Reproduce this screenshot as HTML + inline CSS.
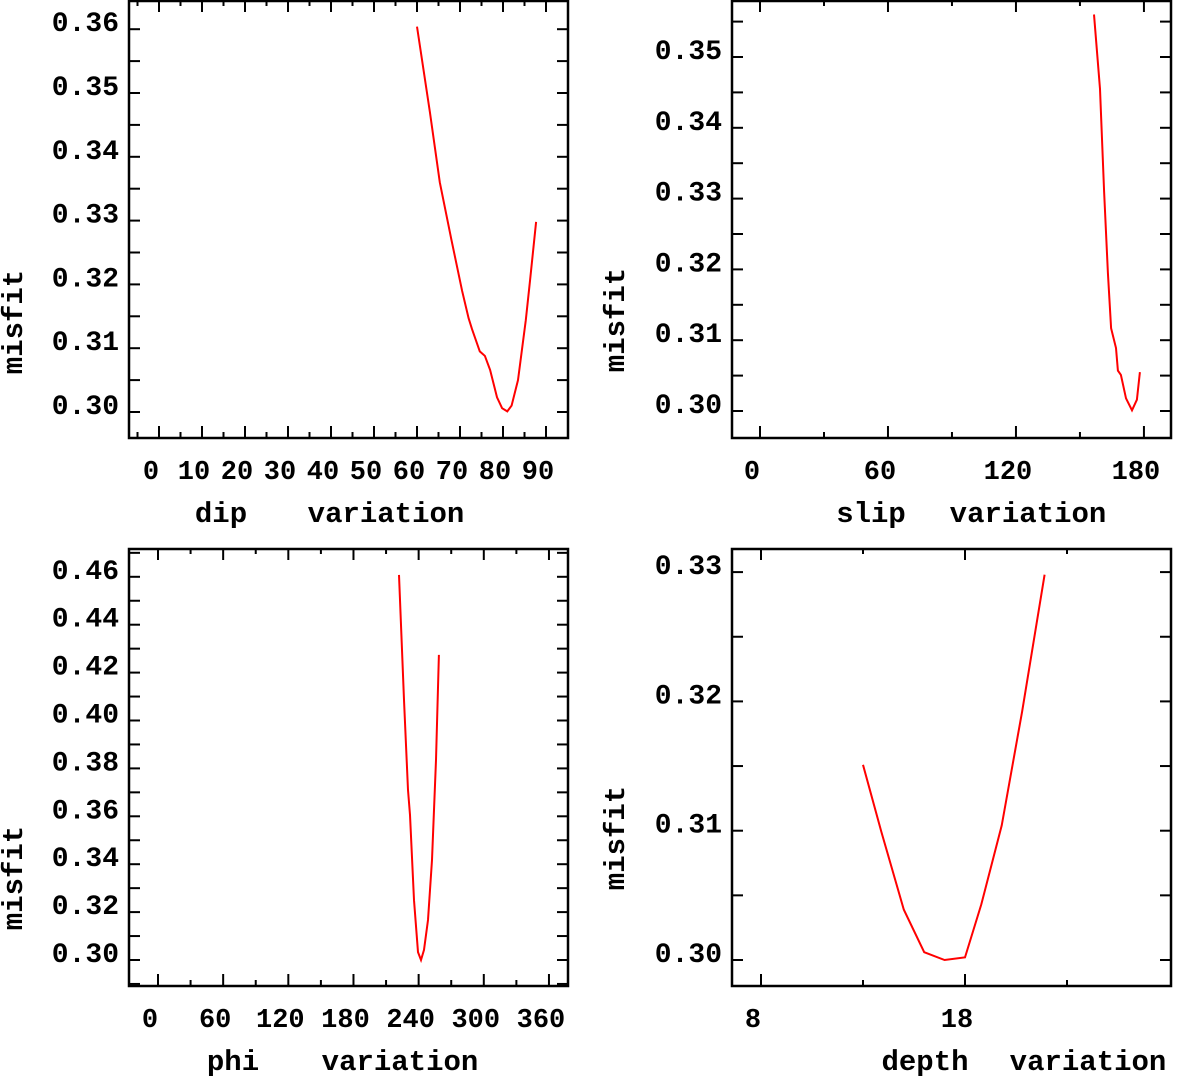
<!DOCTYPE html>
<html><head><meta charset="utf-8"><style>
body{margin:0;background:#fff}
svg text{font-family:"Liberation Mono",monospace;font-weight:bold;fill:#000}
</style></head><body>
<svg id="c" width="1183" height="1076" xmlns="http://www.w3.org/2000/svg"></svg>
<script>
const dipX=[60,63,65.3,68,70.5,72,72.8,74.6,75.8,77,78.6,79.8,81,82,83.5,85.3,86.3,87.7];
const dipY=[0.3604,0.347,0.336,0.327,0.319,0.3147,0.313,0.3095,0.3088,0.3066,0.3023,0.3006,0.3001,0.301,0.305,0.3144,0.3207,0.3298];
const slipX=[156.6,159.4,161.3,163.1,164.6,166.9,167.8,169.2,171.6,174.4,176.7,178.1];
const slipY=[0.356,0.3455,0.331,0.3195,0.3117,0.3089,0.3057,0.3051,0.3018,0.3001,0.3016,0.3055];
const phiX=[221.9,226.5,230.2,232,235.7,239.4,242.2,244.9,248.6,252.3,256,258.7];
const phiY=[0.4608,0.4086,0.371,0.3606,0.325,0.3033,0.300,0.3042,0.3167,0.3418,0.3835,0.4274];
const depX=[13,13.9,15,16,17,18,18.8,19.8,20.8,21.9];
const depY=[0.3151,0.3099,0.3039,0.3006,0.300,0.3002,0.3043,0.3104,0.3192,0.3298];
const dipTicks=[0,10,20,30,40,50,60,70,80,90];
const slipTicks=[0,60,120,180];
const phiTicks=[0,60,120,180,240,300,360];
const depTicks=[8,18];
const dipYT=[0.30,0.31,0.32,0.33,0.34,0.35,0.36];
const slipYT=[0.30,0.31,0.32,0.33,0.34,0.35];
const phiYT=[0.30,0.32,0.34,0.36,0.38,0.40,0.42,0.44,0.46];
const depYT=[0.30,0.31,0.32,0.33];

const svg=document.getElementById('c');
const NS='http://www.w3.org/2000/svg';
function mk(t,a,p){const e=document.createElementNS(NS,t);for(const k in a)e.setAttribute(k,a[k]);(p||svg).appendChild(e);return e;}
const panels=[
 {n:'dip',L:129,R:568,T:0,B:438,x0:159,xs:4.3,xb:0,y0:412,ys:6380,xt:dipTicks,xm:5,yt:dipYT,ym:0.005,X:dipX,Y:dipY,w1:'dip',x1:221,w2:'variation',x2:386,ly:322,lx:14},
 {n:'slip',L:732,R:1171,T:0,B:438,x0:760,xs:2.133,xb:0,y0:411,ys:7080,xt:slipTicks,xm:30,yt:slipYT,ym:0.005,X:slipX,Y:slipY,w1:'slip',x1:871,w2:'variation',x2:1028,ly:320,lx:616},
 {n:'phi',L:129,R:568,T:548,B:986,x0:158,xs:1.086,xb:0,y0:960,ys:2395,xt:phiTicks,xm:30,yt:phiYT,ym:0.01,X:phiX,Y:phiY,w1:'phi',x1:233,w2:'variation',x2:400,ly:878,lx:14},
 {n:'depth',L:732,R:1171,T:548,B:986,x0:597.8,xs:20.4,xb:3,y0:960,ys:12930,xt:depTicks,xm:5,yt:depYT,ym:0.005,X:depX,Y:depY,w1:'depth',x1:925,w2:'variation',x2:1088,ly:838,lx:616}
];
panels.forEach(p=>{
 const g=mk('g',{});
 
 
 const sx=v=>p.x0+p.xs*v, sy=v=>p.y0-(v-0.30)*p.ys;
 const box=mk('rect',{x:p.L,y:p.T+1,width:p.R-p.L,height:p.B-p.T-1,fill:'none',stroke:'#000','stroke-width':2.5},g);
 
 
 const vmin=(p.L-p.x0)/p.xs;
 const xmin=Math.ceil((vmin-p.xb)/p.xm)*p.xm+p.xb;
 for(let v=xmin;sx(v)<p.R-2;v+=p.xm){
  const major=p.xt.includes(Math.round(v));
  const len=major?12:6, x=sx(v);
  mk('line',{x1:x,x2:x,y1:p.B,y2:p.B-len,stroke:'#000','stroke-width':2},g);
  mk('line',{x1:x,x2:x,y1:p.T,y2:p.T+len,stroke:'#000','stroke-width':2},g);
 }
 p.xt.forEach(v=>{const t=mk('text',{x:sx(v)-8,y:p.B+41,'font-size':27,'text-anchor':'middle'},g);t.textContent=v;
  
  });
 const ystart=0.30-Math.floor((p.B-p.y0)/p.ys/p.ym)*p.ym;
 for(let v=ystart;sy(v)>p.T+2;v+=p.ym){
  const y=sy(v);
  mk('line',{x1:p.L,x2:p.L+11,y1:y,y2:y,stroke:'#000','stroke-width':2},g);
  mk('line',{x1:p.R,x2:p.R-11,y1:y,y2:y,stroke:'#000','stroke-width':2},g);
 }
 p.yt.forEach(v=>{const t=mk('text',{x:p.L-10,y:sy(v)+2,'font-size':28,'text-anchor':'end'},g);t.textContent=v.toFixed(2);
  
  });
 const a=mk('text',{x:p.x1,y:p.B+84,'font-size':29,'text-anchor':'middle'},g);
 a.textContent=p.w1;
 
 
 const b=mk('text',{x:p.x2,y:p.B+84,'font-size':29,'text-anchor':'middle'},g);
 b.textContent=p.w2;
 
 
 const yt=mk('text',{x:0,y:0,'font-size':29,'text-anchor':'middle',transform:`translate(${p.lx+8},${p.ly}) rotate(-90)`},g);
 yt.textContent='misfit';
 
 
 const pts=p.X.map((v,i)=>sx(v).toFixed(1)+','+sy(p.Y[i]).toFixed(1)).join(' ');
 const ln=mk('polyline',{points:pts,fill:'none',stroke:'#f00','stroke-width':2},g);
 
 
});
</script>
</body></html>
